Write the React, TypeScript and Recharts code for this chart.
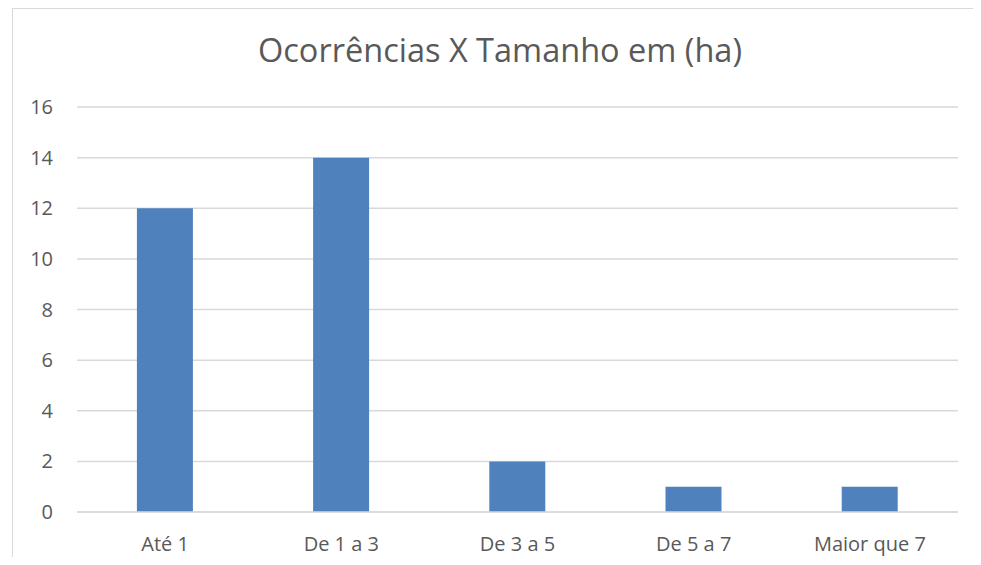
import { BarChart, Bar, XAxis, YAxis, CartesianGrid } from 'recharts'

const categories = ['Até 1', 'De 1 a 3', 'De 3 a 5', 'De 5 a 7', 'Maior que 7']
const occurrences = [12, 14, 2, 1, 1]
const yTicks = [0, 2, 4, 6, 8, 10, 12, 14, 16]

const data = categories.map((name, i) => ({ name, value: occurrences[i] }))

const font = '"Open Sans", Lato, sans-serif'

export default function App() {
  return (
    <div style={{
      position: 'relative',
      width: 981,
      height: 565,
      margin: -8,
      overflow: 'hidden',
      background: '#fff',
      fontFamily: font
    }}>
      <div style={{
        position: 'absolute',
        left: 12,
        top: 8,
        width: 975,
        height: 565,
        background: '#fff',
        borderTop: '1px solid #d9d9d9',
        borderLeft: '1px solid #d9d9d9'
      }} />

      <div style={{
        position: 'absolute',
        left: 0,
        top: 27,
        width: 1000,
        textAlign: 'center',
        fontSize: 32.5,
        color: '#595959'
      }}>
        Ocorrências X Tamanho em (ha)
      </div>

      <div style={{ position: 'absolute', left: 12, top: 8 }}>
        <BarChart
          width={969}
          height={557}
          data={data}
          margin={{ top: 99, right: 23, left: 0, bottom: 0 }}
          barCategoryGap="34%"
        >
          <CartesianGrid vertical={false} stroke="#d9d9d9" strokeWidth={1.5} />
          <XAxis
            dataKey="name"
            height={53}
            axisLine={{ stroke: '#d9d9d9', strokeWidth: 1.5 }}
            tickLine={false}
            tickMargin={19}
            tick={{ fill: '#595959', fontSize: 20, fontFamily: font }}
          />
          <YAxis
            width={65}
            domain={[0, 16]}
            ticks={yTicks}
            axisLine={false}
            tickLine={false}
            tickMargin={18}
            tick={{ fill: '#595959', fontSize: 20, fontFamily: font }}
          />
          <Bar dataKey="value" fill="#4f81bd" isAnimationActive={false} />
        </BarChart>
      </div>

      {/* caption above the chart box, only its lower edge shows */}
      <svg
        width={981}
        height={8}
        style={{ position: 'absolute', left: 0, top: 0, zIndex: 5, overflow: 'hidden' }}
      >
        <text
          y={6.5}
          fontFamily='"Liberation Sans", Arial, sans-serif'
          fontSize={31}
          fill="#000"
        >
          <tspan x={-22} fontWeight="bold">Figura 4</tspan>
          <tspan x={108}>–</tspan>
          <tspan x={173}>Tamanhos das propriedades em ha</tspan>
        </text>
      </svg>
    </div>
  )
}
